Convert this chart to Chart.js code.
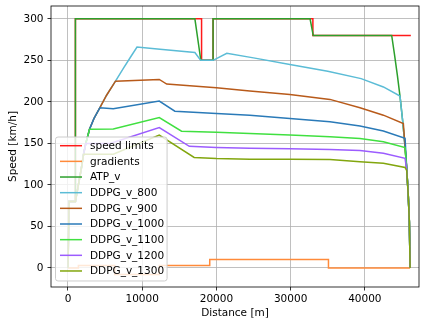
<!DOCTYPE html>
<html>
<head>
<meta charset="utf-8">
<script src="https://cdn.jsdelivr.net/npm/chart.js@4"></script>
<style>
html, body { margin: 0; padding: 0; background: #fff; }
canvas { display: block; }
</style>
</head>
<body>
<canvas id="chart" width="423" height="323"></canvas>
<script>
// tick labels
const X_TICKS = [0, 10000, 20000, 30000, 40000];
const Y_TICKS = [0, 50, 100, 150, 200, 250, 300];

// speed limits
const LIMIT_X = [0, 1000, 1000, 18000, 18000, 19550, 19550, 33000, 33000, 46200];
const LIMIT_Y = [80, 80, 300, 300, 250, 250, 300, 300, 280, 280];

// gradients
const GRAD_X = [0, 1400, 1400, 6300, 6300, 12300, 12300, 19100, 19100, 35100, 35100, 46100];
const GRAD_Y = [0, 0, 3, 3, -8, -8, 3, 3, 10, 10, 0, 0];

// ATP_v
const ATP_X = [0, 1000, 1000, 17100, 17900, 19550, 19550, 32620, 33050, 43620, 44000, 44400, 44750, 45100, 45400, 45650, 45850, 46000, 46100];
const ATP_Y = [80, 80, 300, 300, 250, 250, 300, 300, 280, 280, 257, 231, 206, 177, 148, 119, 88, 56, 0];

// DDPG runs
const V800_X = [0, 150, 1000, 1400, 1800, 2100, 2400, 2900, 3500, 4300, 5200, 6400, 7500, 8500, 9300, 12400, 17100, 17880, 19550, 21400, 25000, 29900, 35000, 39500, 42500, 44740, 45100, 45400, 45650, 45850, 46000, 46100];
const V800_Y = [0, 80, 80, 100, 120, 137, 150, 167, 180, 193, 208, 225, 241, 255, 266, 263.5, 259.5, 250, 250, 258.5, 253, 245, 237, 228, 218, 207, 177, 148, 119, 88, 56, 0];

const V900_X = [0, 150, 1000, 1400, 1800, 2100, 2400, 2900, 3500, 4300, 5200, 6400, 12300, 13300, 20000, 24500, 29900, 35300, 39350, 42500, 45190, 45400, 45650, 45850, 46000, 46100];
const V900_Y = [0, 80, 80, 100, 120, 137, 150, 167, 180, 193, 208, 225, 227, 221.5, 217, 213, 209, 203, 193, 184, 174, 148, 119, 88, 56, 0];

const V1000_X = [0, 150, 1000, 1400, 1800, 2100, 2400, 2900, 3500, 4300, 6100, 12300, 14400, 20000, 24500, 29900, 35300, 39350, 42500, 45420, 45650, 45850, 46000, 46100];
const V1000_Y = [0, 80, 80, 100, 120, 137, 150, 167, 180, 193, 191.6, 201, 188.8, 186, 184, 180, 176, 171, 165, 156, 119, 88, 56, 0];

const V1100_X = [0, 150, 1000, 1400, 1800, 2100, 2400, 2900, 6100, 12300, 15300, 20000, 24500, 29900, 35300, 39350, 42500, 45420, 45650, 45850, 46000, 46100];
const V1100_Y = [0, 80, 80, 100, 120, 137, 150, 167, 167.4, 181.2, 164.7, 163.5, 162, 160, 158, 156, 152, 145, 119, 88, 56, 0];

const V1200_X = [0, 150, 1000, 1400, 1800, 2100, 2400, 5660, 12300, 16350, 20000, 24500, 29900, 35300, 39350, 42500, 45420, 45650, 45850, 46000, 46100];
const V1200_Y = [0, 80, 80, 100, 120, 137, 150, 150, 169, 146.5, 145, 144, 143.5, 142.5, 141.5, 138, 132, 118, 88, 56, 0];

const V1300_X = [0, 150, 1000, 1400, 1800, 2100, 6100, 12300, 17000, 20000, 24500, 29900, 35300, 39350, 42500, 45420, 45650, 45850, 46000, 46100];
const V1300_Y = [0, 80, 80, 100, 120, 137, 137, 160, 133, 131.7, 131, 130.8, 130.5, 128, 126, 121, 117, 88, 56, 0];

const NAMES = ['speed limits', 'gradients', 'ATP_v', 'DDPG_v_800', 'DDPG_v_900', 'DDPG_v_1000', 'DDPG_v_1100', 'DDPG_v_1200', 'DDPG_v_1300'];
const COLORS = ['#ff1a1a', '#ff8a3a', '#2ca02c', '#5bbcd6', '#b85a1a', '#2a7ab8', '#40e040', '#9c5cff', '#82a60e'];
const XS = [LIMIT_X, GRAD_X, ATP_X, V800_X, V900_X, V1000_X, V1100_X, V1200_X, V1300_X];
const YS = [LIMIT_Y, GRAD_Y, ATP_Y, V800_Y, V900_Y, V1000_Y, V1100_Y, V1200_Y, V1300_Y];

const FONT = '"DejaVu Sans", sans-serif';
Chart.defaults.font.family = FONT;
Chart.defaults.font.size = 10.5;
Chart.defaults.color = '#000';

const datasets = NAMES.map((name, i) => ({
  label: name,
  data: XS[i].map((x, k) => ({ x: x, y: YS[i][k] })),
  borderColor: COLORS[i],
  backgroundColor: COLORS[i],
  borderWidth: 1.5,
  pointRadius: 0,
  showLine: true,
  fill: false,
  tension: 0,
  order: NAMES.length - i
}));

// spines drawn over the lines, like matplotlib
const frame = {
  id: 'frame',
  afterDatasetsDraw(chart) {
    const { ctx, chartArea: a } = chart;
    ctx.save();
    ctx.strokeStyle = '#000';
    ctx.lineWidth = 0.8;
    ctx.strokeRect(a.left, a.top, a.right - a.left, a.bottom - a.top);
    ctx.restore();
  }
};

// legend box at lower left inside the axes
const legendBox = {
  id: 'legendBox',
  afterDraw(chart) {
    const ctx = chart.ctx;
    ctx.save();
    ctx.font = '10.5px ' + FONT;
    let w = 0;
    NAMES.forEach(n => { w = Math.max(w, ctx.measureText(n).width); });
    const x0 = 55.5, y0 = 137, rowH = 15.66;
    const bw = 34.5 + w + 3, bh = 8.7 + rowH * 8 + 10;
    const r = 2.5;
    ctx.beginPath();
    ctx.moveTo(x0 + r, y0);
    ctx.arcTo(x0 + bw, y0, x0 + bw, y0 + bh, r);
    ctx.arcTo(x0 + bw, y0 + bh, x0, y0 + bh, r);
    ctx.arcTo(x0, y0 + bh, x0, y0, r);
    ctx.arcTo(x0, y0, x0 + bw, y0, r);
    ctx.closePath();
    ctx.fillStyle = 'rgba(255,255,255,0.8)';
    ctx.fill();
    ctx.strokeStyle = '#cccccc';
    ctx.lineWidth = 1;
    ctx.stroke();
    ctx.textBaseline = 'middle';
    ctx.textAlign = 'left';
    NAMES.forEach((n, i) => {
      const y = y0 + 8.7 + i * rowH;
      ctx.strokeStyle = COLORS[i];
      ctx.lineWidth = 1.5;
      ctx.beginPath();
      ctx.moveTo(60, y);
      ctx.lineTo(82, y);
      ctx.stroke();
      ctx.fillStyle = '#000';
      ctx.fillText(n, 90, y + 0.5);
    });
    ctx.restore();
  }
};

new Chart(document.getElementById('chart'), {
  type: 'scatter',
  data: { datasets: datasets },
  options: {
    responsive: false,
    animation: false,
    devicePixelRatio: 1,
    layout: { padding: { top: 6, right: 4, left: 0, bottom: 0 } },
    plugins: { legend: { display: false }, tooltip: { enabled: false } },
    scales: {
      x: {
        type: 'linear',
        min: -2290,
        max: 47300,
        afterBuildTicks: s => { s.ticks = X_TICKS.map(v => ({ value: v })); },
        afterFit: s => { s.height = 36; s.paddingLeft = 0; s.paddingRight = 0; },
        ticks: { padding: 2.5, maxRotation: 0, autoSkip: false, callback: v => String(v) },
        grid: { color: '#b0b0b0', lineWidth: 0.8, tickColor: '#000', tickLength: 3.5, tickWidth: 0.8 },
        border: { display: false },
        title: { display: true, text: 'Distance [m]', padding: { top: 0, bottom: 3.4 } }
      },
      y: {
        type: 'linear',
        min: -23,
        max: 315.5,
        afterBuildTicks: s => { s.ticks = Y_TICKS.map(v => ({ value: v })); },
        afterFit: s => { s.width = 51; s.paddingTop = 0; s.paddingBottom = 0; },
        ticks: { padding: 4, autoSkip: false, callback: v => String(v) },
        grid: { color: '#b0b0b0', lineWidth: 0.8, tickColor: '#000', tickLength: 3.5, tickWidth: 0.8 },
        border: { display: false },
        title: { display: true, text: 'Speed [km/h]', padding: { top: 7, bottom: 0 } }
      }
    }
  },
  plugins: [frame, legendBox]
});
</script>
</body>
</html>
